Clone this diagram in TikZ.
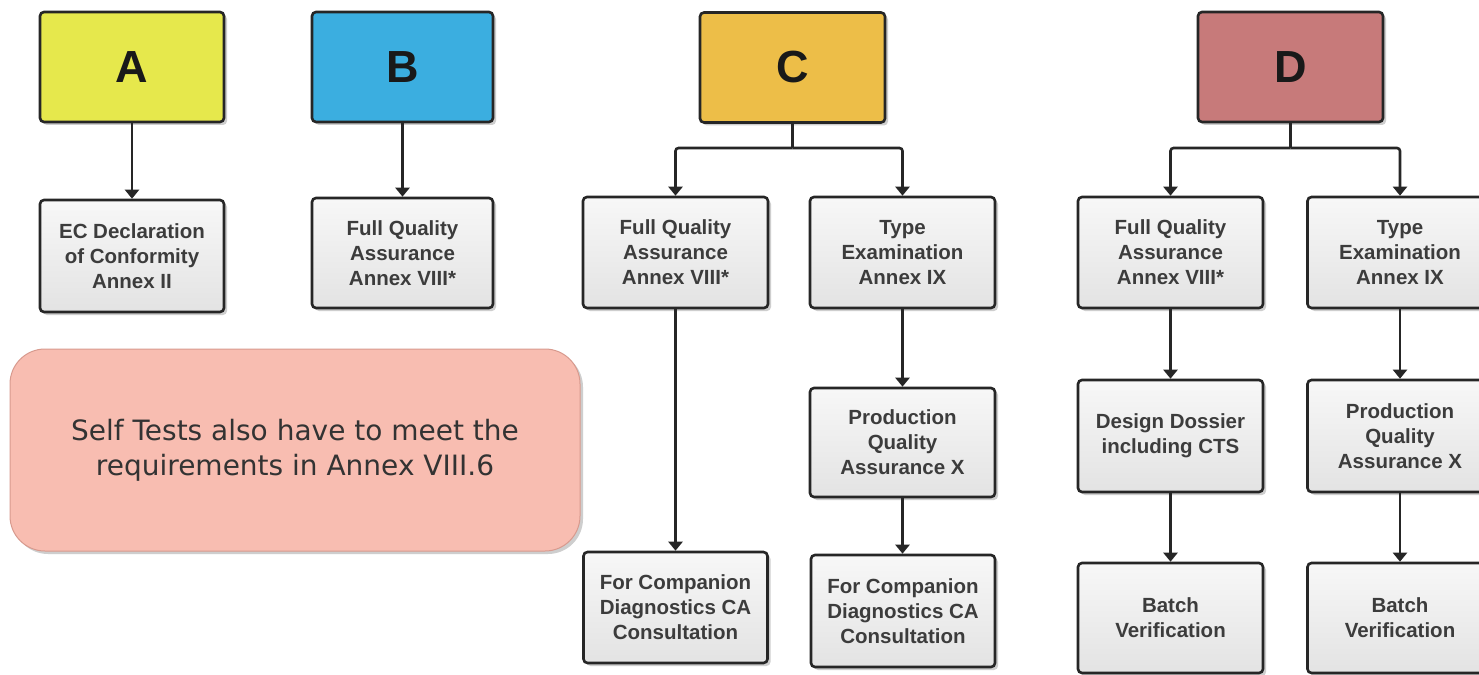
\documentclass[tikz,border=0pt]{standalone}
\usepackage{fontspec}
\setmainfont{Liberation Sans}
\newfontfamily\pinkfont{DejaVu Sans}
\usetikzlibrary{arrows.meta,shadows}
\definecolor{colA}{HTML}{E6E84C}
\definecolor{colB}{HTML}{3BAEE0}
\definecolor{colC}{HTML}{EDBE48}
\definecolor{colD}{HTML}{C77A7A}
\definecolor{txtgray}{HTML}{3C3C3C}
\definecolor{pinkfill}{HTML}{F8BDB1}
\definecolor{pinkedge}{HTML}{D89A8E}
\definecolor{edge}{HTML}{262626}
\begin{document}
\begin{tikzpicture}[x=1pt,y=-1pt,
  shadowed/.style={drop shadow={shadow xshift=3pt,shadow yshift=-3pt,opacity=0.35,fill=black!55}},
  letterbox/.style={draw=edge, line width=2.6pt, rounded corners=4pt, minimum width=184pt, minimum height=110pt, font=\fontsize{45}{45}\selectfont\bfseries, text=black!90, inner sep=0pt, shadowed},
  stepbox/.style={draw=edge, line width=2.6pt, rounded corners=4pt, minimum width=184pt, minimum height=110pt, top color=gray!6, bottom color=gray!22, align=center, font=\fontsize{20.5}{25}\selectfont\bfseries, text=txtgray, inner sep=0pt, shadowed},
  conn/.style={draw=edge, line width=2.6pt, rounded corners=3pt, -{Triangle[width=14pt,length=9pt]}},
  stem/.style={draw=edge, line width=2.6pt}
]
\useasboundingbox (0,0) rectangle (1479,674);
\fill[white] (0,0) rectangle (1479,674);
\clip (0,0) rectangle (1479,674);

% top letter boxes
\node[letterbox, fill=colA] (A) at (132,67) {A};
\node[letterbox, fill=colB, minimum width=181pt] (B) at (402.5,67) {B};
\node[letterbox, fill=colC, minimum width=185pt] (C) at (792.5,67.5) {C};
\node[letterbox, fill=colD, minimum width=185pt] (D) at (1290.5,67) {D};

% second level
\node[stepbox, minimum height=112pt] (A2) at (132,256) {EC Declaration\\of Conformity\\Annex II};
\node[stepbox, minimum width=181pt] (B2) at (402.5,253) {Full Quality\\Assurance\\Annex VIII*};
\node[stepbox, minimum width=185pt, minimum height=111pt] (C2L) at (675.5,252.5) {Full Quality\\Assurance\\Annex VIII*};
\node[stepbox, minimum width=185pt, minimum height=111pt] (C2R) at (902.5,252.5) {Type\\Examination\\Annex IX};
\node[stepbox, minimum width=185pt, minimum height=111pt] (D2L) at (1170.5,252.5) {Full Quality\\Assurance\\Annex VIII*};
\node[stepbox, minimum width=185pt, minimum height=111pt] (D2R) at (1400,252.5) {Type\\Examination\\Annex IX};

% third level
\node[stepbox, minimum width=185pt, minimum height=109pt] (C3R) at (902.5,442.5) {Production\\Quality\\Assurance X};
\node[stepbox, minimum width=185pt, minimum height=112pt] (D3L) at (1170.5,436) {Design Dossier\\including CTS};
\node[stepbox, minimum width=185pt, minimum height=112pt] (D3R) at (1400,436) {Production\\Quality\\Assurance X};

% fourth level
\node[stepbox, minimum height=111pt] (C4L) at (675.5,607.5) {For Companion\\Diagnostics CA\\Consultation};
\node[stepbox, minimum height=112pt] (C4R) at (903,611) {For Companion\\Diagnostics CA\\Consultation};
\node[stepbox, minimum width=185pt, minimum height=110pt] (D4L) at (1170.5,618) {Batch\\Verification};
\node[stepbox, minimum width=185pt, minimum height=110pt] (D4R) at (1400,618) {Batch\\Verification};

% note
\node[draw=pinkedge, line width=1pt, fill=pinkfill, rounded corners=35pt, minimum width=570pt, minimum height=202pt, shadowed, align=center, font=\pinkfont\fontsize{28}{35}\selectfont, text=black!80] (note) at (295,450) {Self Tests also have to meet the\\requirements in Annex VIII.6};

% connectors
\draw[conn] (A) -- (A2);
\draw[conn] (B) -- (B2);
\coordinate (Cj) at (792.5,148);
\draw[stem] (C) -- (Cj);
\draw[conn] (Cj) -| (C2L);
\draw[conn] (Cj) -| (C2R);
\coordinate (Dj) at (1290.5,148);
\draw[stem] (D) -- (Dj);
\draw[conn] (Dj) -| (D2L);
\draw[conn] (Dj) -| (D2R);
\draw[conn] (C2L) -- (C4L);
\draw[conn] (C2R) -- (C3R);
\draw[conn] (C3R) -- (C4R.north -| C3R.south);
\draw[conn] (D2L) -- (D3L);
\draw[conn] (D3L) -- (D4L);
\draw[conn] (D2R) -- (D3R);
\draw[conn] (D3R) -- (D4R);
\end{tikzpicture}
\end{document}
